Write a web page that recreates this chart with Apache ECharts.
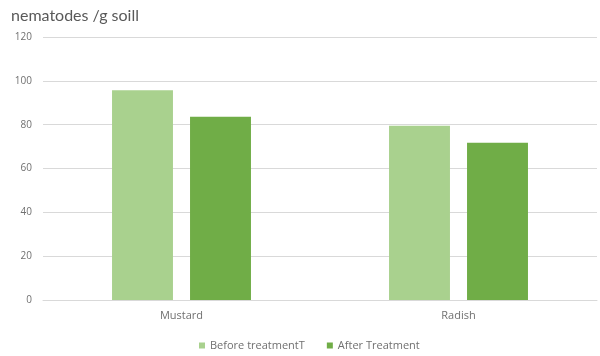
<!DOCTYPE html>
<html>
<head>
<meta charset="utf-8">
<script src="https://cdn.jsdelivr.net/npm/echarts@6/dist/echarts.min.js"></script>
<style>
  html, body { margin: 0; padding: 0; background: #fff; }
  #chart { width: 600px; height: 356px; }
</style>
</head>
<body>
<div id="chart"></div>
<script>
// Nematode counts per gram of soil, before and after treatment
const categories = ['Mustard', 'Radish'];
const beforeValues = [95.7, 79.5];
const afterValues = [83.6, 71.7];
const seriesNames = ['Before treatmentT', 'After Treatment'];
const yTicks = { min: 0, max: 120, interval: 20 };

const chart = echarts.init(document.getElementById('chart'), null, { renderer: 'canvas' });

const titleFont = 'Lato, "Open Sans", sans-serif';
const labelFont = '"Open Sans", "Noto Sans", sans-serif';

chart.setOption({
  animation: false,
  title: {
    text: 'nematodes /g soill',
    left: 6,
    top: 3,
    textStyle: { fontFamily: titleFont, fontSize: 16, fontWeight: 'normal', color: '#595959' }
  },
  legend: {
    data: seriesNames,
    bottom: 0,
    left: 194,
    itemWidth: 6,
    itemHeight: 6,
    itemGap: 22,
    icon: 'rect',
    textStyle: { fontFamily: labelFont, fontSize: 11, color: '#707070' }
  },
  grid: { left: 43, right: 3, top: 37, bottom: 56 },
  xAxis: {
    type: 'category',
    data: categories,
    axisTick: { show: false },
    axisLine: { lineStyle: { color: '#d9d9d9' } },
    axisLabel: { fontFamily: labelFont, fontSize: 11, color: '#707070', margin: 10 }
  },
  yAxis: {
    type: 'value',
    min: yTicks.min,
    max: yTicks.max,
    interval: yTicks.interval,
    axisLine: { show: false },
    axisTick: { show: false },
    splitLine: { lineStyle: { color: '#d9d9d9' } },
    axisLabel: { fontFamily: labelFont, fontSize: 10, color: '#707070', margin: 11 }
  },
  series: [
    {
      name: seriesNames[0],
      type: 'bar',
      data: beforeValues,
      barWidth: '22%',
      barGap: '28%',
      itemStyle: { color: '#a9d18e' }
    },
    {
      name: seriesNames[1],
      type: 'bar',
      data: afterValues,
      barWidth: '22%',
      itemStyle: { color: '#70ad47' }
    }
  ]
});
</script>
</body>
</html>
